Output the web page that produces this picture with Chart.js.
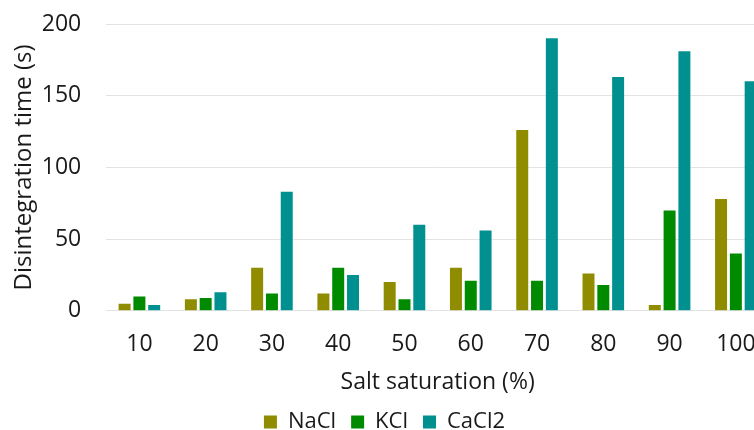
<!DOCTYPE html>
<html>
<head>
<meta charset="utf-8">
<script src="https://cdn.jsdelivr.net/npm/chart.js@4/dist/chart.umd.min.js"></script>
<style>
  html, body { margin: 0; padding: 0; background: #fff; overflow: hidden; }
  #wrap { position: absolute; left: 0; top: 0; width: 780px; height: 443px; }
</style>
</head>
<body>
<div id="wrap"><canvas id="chart" width="780" height="443"></canvas></div>
<script>
// values
const categories = ["10", "20", "30", "40", "50", "60", "70", "80", "90", "100"];
const nacl = [5, 8, 30, 12, 20, 30, 126, 26, 4, 78];
const kcl = [10, 9, 12, 30, 8, 21, 21, 18, 70, 40];
const cacl2 = [4, 13, 83, 25, 60, 56, 190, 163, 181, 160];
const yTicks = [0, 50, 100, 150, 200];

const FONT = "'Open Sans', 'Noto Sans', sans-serif";
const TEXT = "#1a1a1a";

const ctx = document.getElementById("chart").getContext("2d");

new Chart(ctx, {
  type: "bar",
  data: {
    labels: categories,
    datasets: [
      { label: "NaCl", data: nacl, backgroundColor: "#8f8c00" },
      { label: "KCl", data: kcl, backgroundColor: "#008a00" },
      { label: "CaCl2", data: cacl2, backgroundColor: "#009090" },
    ]
  },
  options: {
    responsive: false,
    animation: false,
    categoryPercentage: 0.67,
    barPercentage: 0.81,
    layout: { padding: { top: 24, right: 11, left: 0, bottom: 0 } },
    plugins: {
      tooltip: { enabled: false },
      legend: {
        position: "bottom",
        labels: {
          boxWidth: 13,
          boxHeight: 13,
          padding: 15,
          color: TEXT,
          font: { family: FONT, size: 22 }
        }
      }
    },
    scales: {
      x: {
        // invisible tick marks give the gap below the plot
        grid: { display: true, drawOnChartArea: false, tickLength: 20, tickColor: "transparent" },
        border: { display: false },
        ticks: { color: TEXT, padding: 0, font: { family: FONT, size: 23 } },
        title: {
          display: true,
          text: "Salt saturation (%)",
          color: TEXT,
          padding: { top: 10, bottom: 0 },
          font: { family: FONT, size: 23 }
        }
      },
      y: {
        min: 0,
        max: 200,
        afterBuildTicks: (axis) => { axis.ticks = yTicks.map(v => ({ value: v })); },
        grid: { color: "#e3e3e3", lineWidth: 1, tickLength: 22, tickColor: "transparent" },
        border: { display: false },
        ticks: { color: TEXT, padding: 3, font: { family: FONT, size: 23 } },
        title: {
          display: true,
          text: "Disintegration time (s)",
          color: TEXT,
          padding: { top: 10, bottom: 0 },
          font: { family: FONT, size: 24 }
        }
      }
    }
  }
});
</script>
</body>
</html>
